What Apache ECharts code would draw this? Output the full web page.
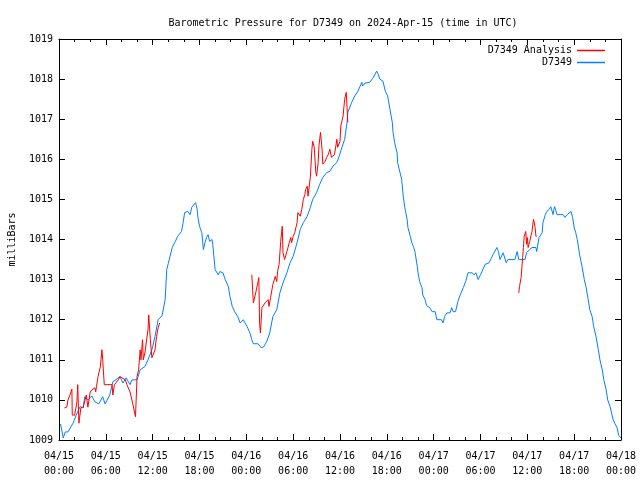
<!DOCTYPE html>
<html>
<head>
<meta charset="utf-8">
<script src="https://cdn.jsdelivr.net/npm/echarts@6/dist/echarts.min.js"></script>
<style>html,body{margin:0;padding:0;background:#fff}#c{width:640px;height:480px}</style>
</head>
<body>
<div id="c"></div>
<script>
// Hours since 2024-04-15 00:00 UTC
const xTickLabels = ['04/15\n00:00','04/15\n06:00','04/15\n12:00','04/15\n18:00','04/16\n00:00','04/16\n06:00','04/16\n12:00','04/16\n18:00','04/17\n00:00','04/17\n06:00','04/17\n12:00','04/17\n18:00','04/18\n00:00'];

const stationHours = [0.2,0.55,0.8,1.15,1.8,2.2,2.7,3.1,3.3,3.7,4.2,4.6,5.1,5.6,5.9,6.5,6.9,7.8,8.2,8.6,9.1,9.35,10.0,10.4,11.0,11.4,11.9,12.3,12.7,13.2,13.6,13.8,14.0,14.5,14.9,15.2,15.7,15.9,16.1,16.5,16.8,17.0,17.5,17.7,17.8,18.0,18.3,18.5,18.7,18.9,19.1,19.3,19.6,19.7,20.0,20.4,20.6,21.0,21.3,21.7,21.9,22.2,22.5,22.9,23.2,23.6,24.1,24.5,24.7,24.9,25.5,25.9,26.2,26.6,27.0,27.4,27.9,28.3,28.7,29.2,29.6,30.0,30.5,30.9,31.3,31.8,32.2,32.5,33.0,33.4,33.8,34.3,34.7,35.1,35.6,35.9,36.3,36.6,36.9,37.0,37.5,37.9,38.3,38.8,38.9,39.2,39.8,40.2,40.7,40.9,41.1,41.5,41.8,42.1,42.4,42.7,42.8,43.0,43.3,43.4,43.9,44.1,44.3,44.6,44.7,45.0,45.2,45.4,45.6,45.9,46.0,46.2,46.5,46.6,46.9,47.1,47.5,47.8,48.2,48.4,49.0,49.2,49.4,49.7,50.1,50.3,50.5,50.8,51.1,51.4,51.8,52.1,52.4,52.9,53.2,53.4,53.7,54.0,54.6,55.1,55.6,56.1,56.3,56.5,56.9,57.3,57.5,58.4,58.7,58.9,59.7,59.9,60.3,60.6,61.1,61.2,61.5,61.9,62.0,62.3,62.5,62.8,63.0,63.3,63.4,63.5,63.8,64.6,64.8,65.1,65.3,65.6,65.8,66.0,66.2,66.4,66.7,67.0,67.3,67.5,67.8,68.0,68.3,68.5,68.8,69.1,69.3,69.6,69.8,70.1,70.3,70.6,71.0,71.2,71.5,71.7,72.0];
const stationPressure = [1009.4,1009.05,1009.2,1009.2,1009.42,1009.62,1009.83,1009.8,1010.08,1010.0,1010.1,1009.95,1009.9,1010.08,1009.9,1010.12,1010.45,1010.58,1010.42,1010.55,1010.38,1010.5,1010.5,1010.75,1010.83,1011.0,1011.25,1011.58,1012.0,1012.1,1012.5,1013.25,1013.4,1013.8,1013.95,1014.08,1014.2,1014.42,1014.67,1014.7,1014.62,1014.8,1014.92,1014.75,1014.55,1014.33,1014.17,1013.75,1013.92,1014.05,1014.12,1013.95,1014.0,1013.88,1013.25,1013.12,1013.2,1013.17,1013.0,1012.82,1012.58,1012.33,1012.2,1012.08,1011.92,1012.0,1011.83,1011.65,1011.5,1011.4,1011.4,1011.3,1011.32,1011.45,1011.67,1012.08,1012.25,1012.67,1012.92,1013.17,1013.42,1013.58,1013.92,1014.25,1014.42,1014.58,1014.8,1015.0,1015.17,1015.38,1015.55,1015.67,1015.7,1015.83,1015.92,1016.08,1016.33,1016.5,1016.92,1017.17,1017.42,1017.58,1017.7,1017.92,1017.83,1017.9,1017.92,1018.02,1018.2,1018.12,1018.0,1017.95,1017.7,1017.58,1017.25,1016.92,1016.67,1016.42,1016.17,1015.9,1015.5,1015.08,1014.8,1014.5,1014.3,1014.08,1013.92,1013.83,1013.7,1013.33,1013.17,1012.95,1012.8,1012.62,1012.5,1012.35,1012.3,1012.2,1012.2,1012.0,1012.0,1011.92,1012.08,1012.17,1012.17,1012.3,1012.2,1012.2,1012.45,1012.62,1012.8,1012.95,1013.17,1013.17,1013.12,1013.17,1013.0,1013.12,1013.38,1013.42,1013.62,1013.8,1013.7,1013.5,1013.67,1013.42,1013.5,1013.5,1013.7,1013.5,1013.5,1013.67,1013.75,1013.8,1013.8,1013.7,1014.05,1014.17,1014.42,1014.62,1014.7,1014.75,1014.82,1014.62,1014.75,1014.82,1014.62,1014.62,1014.55,1014.62,1014.62,1014.7,1014.55,1014.3,1014.17,1014.0,1013.62,1013.33,1013.0,1012.83,1012.5,1012.25,1012.08,1011.83,1011.58,1011.25,1011.0,1010.75,1010.5,1010.25,1010.0,1009.83,1009.5,1009.42,1009.3,1009.12,1009.05];

const analysisHours1 = [0.7,1.0,1.15,1.4,1.65,1.7,2.0,2.3,2.4,2.55,2.8,3.1,3.3,3.5,3.7,4.0,4.2,4.6,4.7,4.8,5.0,5.3,5.5,5.6,5.8,6.8,6.9,7.1,7.6,7.8,8.5,8.7,9.1,9.4,9.7,9.8,10.0,10.2,10.4,10.5,10.7,10.8,11.0,11.4,11.5,11.7,11.9,12.3,12.5,12.7,12.9];
const analysisPressure1 = [1009.8,1009.82,1010.0,1010.12,1010.27,1009.62,1009.62,1009.95,1010.38,1009.42,1009.8,1009.82,1009.8,1010.12,1009.82,1010.2,1010.25,1010.3,1010.2,1010.33,1010.58,1010.83,1011.25,1011.0,1010.38,1010.38,1010.12,1010.38,1010.5,1010.58,1010.5,1010.38,1010.2,1009.95,1009.67,1009.58,1010.58,1010.75,1011.25,1011.0,1011.5,1011.0,1011.17,1011.75,1012.12,1011.5,1011.05,1011.25,1011.58,1011.8,1011.92];

const analysisHours2 = [24.7,24.9,25.0,25.2,25.5,25.6,25.7,25.8,26.0,26.4,26.8,26.9,27.1,27.4,27.7,27.9,28.0,28.2,28.4,28.6,28.7,28.9,29.2,29.5,29.7,29.8,30.0,30.2,30.5,30.6,30.9,31.1,31.3,31.5,31.6,31.8,31.9,32.2,32.4,32.5,32.7,32.9,33.0,33.2,33.3,33.5,33.7,33.8,34.1,34.3,34.5,34.7,34.9,35.1,35.3,35.6,35.7,36.0,36.1,36.4,36.5,36.6,36.8,36.9,37.0];
const analysisPressure2 = [1013.12,1012.42,1012.38,1012.67,1012.95,1013.05,1011.92,1011.67,1012.3,1012.42,1012.5,1012.33,1012.55,1012.88,1013.08,1012.95,1013.2,1013.38,1013.95,1014.33,1013.67,1013.5,1013.7,1013.92,1014.05,1013.92,1014.08,1014.17,1014.42,1014.67,1014.58,1014.75,1015.0,1015.12,1015.25,1015.33,1015.08,1015.55,1016.25,1016.45,1016.3,1015.67,1015.58,1015.92,1016.33,1016.67,1016.25,1015.88,1015.95,1016.05,1016.12,1016.25,1016.05,1016.05,1016.12,1016.5,1016.3,1016.45,1016.83,1017.08,1017.3,1017.5,1017.67,1017.3,1016.92];

const analysisHours3 = [58.9,59.0,59.2,59.3,59.4,59.5,59.6,59.8,59.9,60.0,60.1,60.3,60.5,60.6,60.7,60.8,61.0,61.1,61.2];
const analysisPressure3 = [1012.67,1012.83,1013.05,1013.3,1013.55,1013.8,1014.08,1014.2,1013.88,1014.05,1013.8,1013.95,1014.12,1014.2,1014.38,1014.5,1014.3,1014.08,1014.08];

function pairs(xs, ys){ return xs.map((x,i)=>[x, ys[i]]); }
const analysisData = []
  .concat(pairs(analysisHours1, analysisPressure1), [[13.0,'-']])
  .concat(pairs(analysisHours2, analysisPressure2), [[37.1,'-']])
  .concat(pairs(analysisHours3, analysisPressure3));
const stationData = pairs(stationHours, stationPressure);

const FONT = 'DejaVu Sans Mono';
const chart = echarts.init(document.getElementById('c'), null, {renderer:'canvas'});
const axisCommon = {
  type:'value',
  axisLine:{show:true, onZero:false, lineStyle:{color:'#000', width:1}},
  axisTick:{show:true, inside:true, length:6, lineStyle:{color:'#000'}},
  splitLine:{show:false}
};
chart.setOption({
  animation:false,
  backgroundColor:'#fff',
  textStyle:{fontFamily:FONT},
  title:{
    text:'Barometric Pressure for D7349 on 2024-Apr-15 (time in UTC)',
    left:338, top:13, textAlign:'center',
    textStyle:{fontFamily:FONT, fontSize:10, fontWeight:'normal', color:'#000'}
  },
  legend:{
    orient:'vertical', right:30, top:40, align:'right',
    icon:'rect', itemWidth:28, itemHeight:1.5, itemGap:1,
    textStyle:{fontFamily:FONT, fontSize:10, color:'#000', lineHeight:11},
    data:['D7349 Analysis','D7349']
  },
  grid:{left:59, right:19, top:39, bottom:40, containLabel:false, outerBoundsMode:'none'},
  xAxis:[
    Object.assign({}, axisCommon, {
      min:0, max:72, interval:6, position:'bottom',
      minorTick:{show:true, splitNumber:3, length:3, lineStyle:{color:'#000'}},
      axisLabel:{fontFamily:FONT, fontSize:10, color:'#000', margin:9, lineHeight:15,
        formatter:function(v){ return xTickLabels[Math.round(v/6)]; }}
    }),
    Object.assign({}, axisCommon, {
      min:0, max:72, interval:6, position:'top',
      minorTick:{show:true, splitNumber:3, length:3, lineStyle:{color:'#000'}},
      axisLabel:{show:false}
    })
  ],
  yAxis:[
    Object.assign({}, axisCommon, {
      min:1009, max:1019, interval:1, position:'left',
      name:'milliBars', nameLocation:'middle', nameGap:42, nameRotate:90,
      nameTextStyle:{fontFamily:FONT, fontSize:10, color:'#000'},
      axisLabel:{fontFamily:FONT, fontSize:10, color:'#000', margin:6,
        formatter:function(v){ return String(v); }}
    }),
    Object.assign({}, axisCommon, {
      min:1009, max:1019, interval:1, position:'right',
      axisLabel:{show:false}
    })
  ],
  series:[
    {name:'D7349 Analysis', type:'line', data:analysisData, symbol:'none', showSymbol:false,
     connectNulls:false, lineStyle:{color:'#ff0000', width:1}, itemStyle:{color:'#ff0000'}, z:3},
    {name:'D7349', type:'line', data:stationData, symbol:'none', showSymbol:false,
     lineStyle:{color:'#0080ff', width:1}, itemStyle:{color:'#0080ff'}, z:2}
  ]
});
</script>
</body>
</html>
